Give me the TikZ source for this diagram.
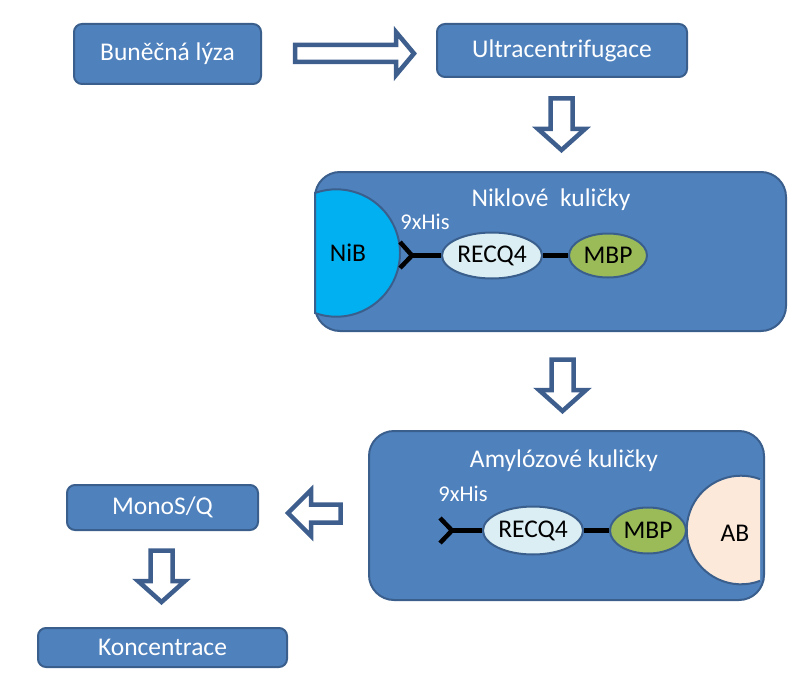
\documentclass[tikz,border=0pt]{standalone}
\usepackage{fontspec}
\setmainfont{Carlito}
\usetikzlibrary{shapes.geometric}
\definecolor{boxfill}{HTML}{4F81BD}
\definecolor{boxline}{HTML}{3A5F8D}
\definecolor{arrline}{HTML}{3E5F8E}
\definecolor{nibfill}{HTML}{00B0F0}
\definecolor{recfill}{HTML}{DAEEF3}
\definecolor{mbpfill}{HTML}{9BBB59}
\definecolor{abfill}{HTML}{FDE9D9}
\tikzset{
 stepbox/.style={draw=boxline, line width=2pt, fill=boxfill, rounded corners=8pt, text=white, font=\fontsize{25.5}{30}\selectfont, inner sep=0pt},
 bigbox/.style={draw=boxline, line width=2pt, fill=boxfill, rounded corners=25pt, inner sep=0pt},
 blockarr/.style={draw=arrline, line width=4.5pt, fill=white, miter limit=10, line join=miter},
 prot/.style={ellipse, draw=boxline, line width=2pt, inner sep=0pt, font=\fontsize{25.5}{30}\selectfont},
 blob/.style={draw=boxline, line width=2pt},
 link/.style={line width=4.5pt, black, line join=miter},
 lbl/.style={font=\fontsize{25.5}{30}\selectfont, inner sep=0pt},
 wlbl/.style={font=\fontsize{25.5}{30}\selectfont, inner sep=0pt, text=white},
 slbl/.style={font=\fontsize{22.5}{26}\selectfont, inner sep=0pt, text=white},
}
\begin{document}
\begin{tikzpicture}[x=1pt,y=-1pt]
\useasboundingbox (0,0) rectangle (803,698);
% step boxes
\node[stepbox, minimum width=187pt, minimum height=60pt] (lyza) at (167.5,54) {Buněčná lýza};
\node[stepbox, minimum width=250pt, minimum height=53pt] (ultra) at (562,50.5) {Ultracentrifugace};
\node[bigbox, minimum width=471pt, minimum height=159pt] (nik) at (550.5,251.5) {};
\node[bigbox, minimum width=395pt, minimum height=169pt] (amy) at (566.5,515.5) {};
\node[stepbox, minimum width=191pt, minimum height=45pt] (mono) at (162.5,507.5) {MonoS/Q};
\node[stepbox, minimum width=249pt, minimum height=39pt] (konc) at (162.5,647.5) {Koncentrace};
% block arrows
\draw[blockarr] (295,45) -- (396,45) -- (396,32) -- (414,53.5) -- (396,75) -- (396,62) -- (295,62) -- cycle;
\draw[blockarr] (550.5,98.5) -- (572.5,98.5) -- (572.5,129) -- (585,129) -- (561.5,150) -- (538,129) -- (550.5,129) -- cycle;
\begin{scope}[shift={(1,261)}]
\draw[blockarr] (550.5,98.5) -- (572.5,98.5) -- (572.5,129) -- (585,129) -- (561.5,150) -- (538,129) -- (550.5,129) -- cycle;
\end{scope}
\begin{scope}[shift={(-400,452)}]
\draw[blockarr] (550.5,98.5) -- (572.5,98.5) -- (572.5,129) -- (585,129) -- (561.5,150) -- (538,129) -- (550.5,129) -- cycle;
\end{scope}
\draw[blockarr] (288,513) -- (311,490) -- (311,504.5) -- (340.5,504.5) -- (340.5,522.5) -- (311,522.5) -- (311,536) -- cycle;
% Nickel beads
\node[wlbl] (niktitle) at (551,200) {Niklové~~kuličky};
\fill[nibfill] ([shift={(109.5:63.7)}]336.3,253) arc[start angle=109.5, end angle=-109.5, radius=63.7] -- cycle;
\draw[blob] ([shift={(109.5:63.7)}]336.3,253) arc[start angle=109.5, end angle=-109.5, radius=63.7] -- cycle;
\node[lbl] (nib) at (348,253) {NiB};
\node[slbl] (his1) at (425,222) {9xHis};
\node[prot, fill=recfill, minimum width=100pt, minimum height=46pt] (rec1) at (492,255.5) {RECQ4};
\node[prot, fill=mbpfill, minimum width=78pt, minimum height=44pt] (mbp1) at (608,255.5) {MBP};
\coordinate (fa1) at (400,242);
\coordinate (fb1) at (400,268);
\coordinate (fc1) at (412,255.5);
\draw[link] (fa1) -- (fc1) -- (fb1);
\draw[link] (fc1) -- (rec1.west);
\draw[link] (rec1.east) -- (mbp1.west);
% Amylose beads
\node[wlbl] (amytitle) at (564,461) {Amylózové kuličky};
\fill[abfill] ([shift={(69.5:54.3)}]741,530) arc[start angle=69.5, end angle=290.5, radius=54.3] -- cycle;
\draw[blob] ([shift={(69.5:54.3)}]741,530) arc[start angle=69.5, end angle=290.5, radius=54.3];
\node[lbl] (ab) at (735,533) {AB};
\node[slbl] (his2) at (463,494) {9xHis};
\node[prot, fill=recfill, minimum width=100pt, minimum height=48pt] (rec2) at (533,530.5) {RECQ4};
\node[prot, fill=mbpfill, minimum width=76pt, minimum height=46pt] (mbp2) at (648,530.5) {MBP};
\coordinate (fa2) at (440,518);
\coordinate (fb2) at (440,543);
\coordinate (fc2) at (452,530.5);
\draw[link] (fa2) -- (fc2) -- (fb2);
\draw[link] (fc2) -- (rec2.west);
\draw[link] (rec2.east) -- (mbp2.west);
\end{tikzpicture}
\end{document}
